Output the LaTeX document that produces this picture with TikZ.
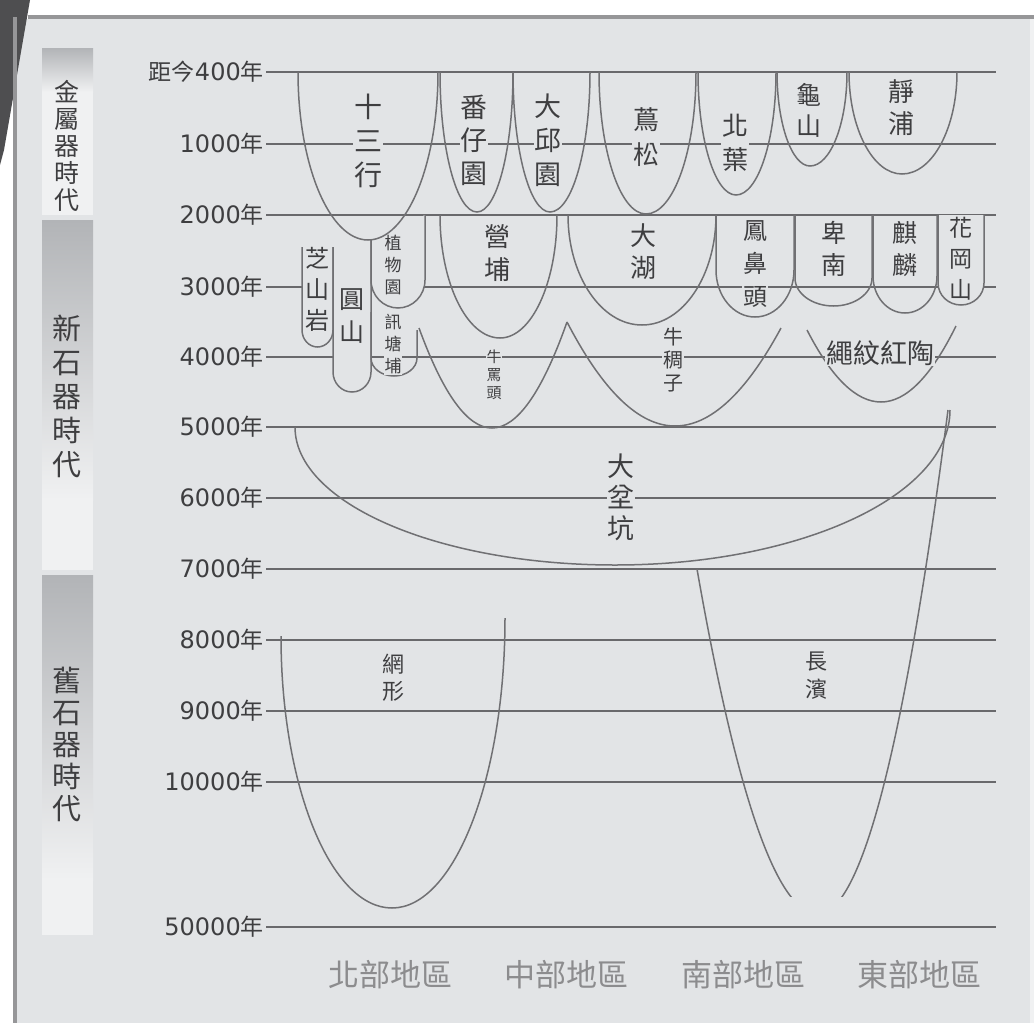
\documentclass[tikz,border=0pt]{standalone}
\usepackage{fontspec}
\newfontfamily\cjk{Noto Sans CJK TC}
\newfontfamily\numfont{DejaVu Sans}
\definecolor{bg}{RGB}{226,228,230}
\definecolor{pale}{RGB}{240,241,242}
\definecolor{ink}{RGB}{62,62,64}
\definecolor{rule}{RGB}{105,105,108}
\definecolor{curve}{RGB}{112,112,115}
\definecolor{framegray}{RGB}{150,150,152}
\definecolor{wedge}{RGB}{78,78,80}
\definecolor{eratop}{RGB}{178,180,183}
\definecolor{regiongray}{RGB}{140,140,142}
\newcommand{\yrnum}[1]{{\numfont\fontsize{24}{26}\selectfont #1}}
% bowl with steep top ends: left (#2,#3), bottom (#4,#5), right (#6,#7)
\newcommand{\ubowl}[7][]{\draw[culture line,#1] (#2,#3) .. controls (#2,{#3+0.552*(#5-#3)}) and ({#4-0.552*(#4-#2)},#5) .. (#4,#5)
  .. controls ({#4+0.552*(#6-#4)},#5) and (#6,{#7+0.552*(#5-#7)}) .. (#6,#7);}
% bowl with slanted arms
\newcommand{\vbowl}[7][]{\draw[culture line,#1] (#2,#3) .. controls ({#2+(#4-#2)/3},{#3+2*(#5-#3)/3}) and ({#4-(#4-#2)/3},#5) .. (#4,#5)
  .. controls ({#4+(#6-#4)/3},#5) and ({#6-(#6-#4)/3},{#7+2*(#5-#7)/3}) .. (#6,#7);}
% straight sided tube: left x, left top, right x, right top, end of straight part, bottom
\newcommand{\tube}[7][]{\draw[culture line,#1] (#2,#3) -- (#2,#6) .. controls (#2,{#6+0.552*(#7-#6)}) and ({(#2+#4)/2-0.552*(#4-#2)/2},#7) .. ({(#2+#4)/2},#7)
  .. controls ({(#2+#4)/2+0.552*(#4-#2)/2},#7) and (#4,{#6+0.552*(#7-#6)}) .. (#4,#6) -- (#4,#5);}

\begin{document}
\begin{tikzpicture}[x=1pt,y=-1pt,
  grid line/.style={draw=rule,line width=1.5pt},
  culture line/.style={draw=curve,line width=1.5pt},
  cjk/.style 2 args={font=\cjk\fontsize{#1}{#2}\selectfont},
  culture/.style={fill=bg,inner sep=0.8pt,align=center,text=ink},
  year/.style={anchor=east,inner sep=2pt,text=ink,cjk={23}{26}},
  era/.style={align=center,text=ink,inner sep=0pt},
  region/.style={text=regiongray,cjk={31}{34}}]

  \useasboundingbox (0,0) rectangle (1034,1023);
  % page and frame
  \fill[white] (0,0) rectangle (1034,1023);
  \fill[bg] (17,19) rectangle (1030,1023);
  \fill[pale] (1030,19) rectangle (1034,1023);
  \fill[wedge] (0,0) -- (30,0) -- (4,150) -- (0,165) -- cycle;
  \draw[framegray,line width=4pt] (28,17) -- (1034,17);
  \draw[framegray,line width=4pt] (15,17) -- (15,1023);

  % era bars
  \shade[top color=eratop,bottom color=pale] (42,48) rectangle (93,92);
  \fill[pale] (42,92) rectangle (93,215);
  \shade[top color=eratop,bottom color=pale] (42,220) rectangle (93,500);
  \fill[pale] (42,500) rectangle (93,570);
  \shade[top color=eratop,bottom color=pale] (42,575) rectangle (93,880);
  \fill[pale] (42,880) rectangle (93,935);
  \node[era,cjk={25}{27}] (metal) at (67,146) {金\\屬\\器\\時\\代};
  \node[era,cjk={29}{34}] (neolithic) at (67,396) {新\\石\\器\\時\\代};
  \node[era,cjk={29}{32}] (paleolithic) at (67,744) {舊\\石\\器\\時\\代};

  % time scale
  \coordinate (lineend) at (996,0);
  \node[year] (y400) at (266,72) {距今\yrnum{400}年};
  \node[year] (y1000) at (266,144) {\yrnum{1000}年};
  \node[year] (y2000) at (266,215) {\yrnum{2000}年};
  \node[year] (y3000) at (266,287) {\yrnum{3000}年};
  \node[year] (y4000) at (266,357) {\yrnum{4000}年};
  \node[year] (y5000) at (266,427) {\yrnum{5000}年};
  \node[year] (y6000) at (266,498) {\yrnum{6000}年};
  \node[year] (y7000) at (266,569) {\yrnum{7000}年};
  \node[year] (y8000) at (266,640) {\yrnum{8000}年};
  \node[year] (y9000) at (266,711) {\yrnum{9000}年};
  \node[year] (y10000) at (266,782) {\yrnum{10000}年};
  \node[year] (y50000) at (266,927) {\yrnum{50000}年};
  \draw[grid line] (y400.east) -- (y400.east -| lineend);
  \draw[grid line] (y1000.east) -- (y1000.east -| lineend);
  \draw[grid line] (y2000.east) -- (y2000.east -| lineend);
  \draw[grid line] (y3000.east) -- (y3000.east -| lineend);
  \draw[grid line] (y4000.east) -- (y4000.east -| lineend);
  \draw[grid line] (y5000.east) -- (y5000.east -| lineend);
  \draw[grid line] (y6000.east) -- (y6000.east -| lineend);
  \draw[grid line] (y7000.east) -- (y7000.east -| lineend);
  \draw[grid line] (y8000.east) -- (y8000.east -| lineend);
  \draw[grid line] (y9000.east) -- (y9000.east -| lineend);
  \draw[grid line] (y10000.east) -- (y10000.east -| lineend);
  \draw[grid line] (y50000.east) -- (y50000.east -| lineend);

  % cultures with a box of their own
  \tube[fill=bg]{302}{247}{333}{247}{330}{347}
  \tube[fill=bg]{333}{247}{371}{240}{372}{392}
  \tube[fill=bg]{371}{240}{425}{215}{280}{308}
  \tube[fill=bg]{938}{215}{984}{215}{283}{305}
  \tube{371}{312}{417}{330}{358}{376}
  \tube{716}{215}{794}{215}{270}{317}
  \tube{795}{215}{872}{215}{278}{306}
  \tube{873}{215}{937}{215}{276}{313}

  % metal age
  \ubowl{298}{72}{368}{240}{438}{72}
  \ubowl{440}{72}{477}{212}{513}{72}
  \ubowl{513}{72}{550}{212}{590}{72}
  \ubowl{599}{72}{646}{214}{696}{72}
  \ubowl{698}{72}{736}{195}{776}{72}
  \ubowl{777}{72}{810}{166}{847}{72}
  \ubowl{849}{72}{902}{174}{957}{72}
  % neolithic
  \ubowl{440}{215}{500}{338}{557}{215}
  \ubowl{568}{215}{642}{325}{716}{215}
  \vbowl{419}{328}{492}{428}{567}{322}
  \vbowl{567}{322}{675}{426}{781}{328}
  \vbowl{807}{330}{881}{402}{956}{326}
  \ubowl{295}{427}{615}{565}{950}{410}
  % paleolithic
  \ubowl{281}{636}{392}{908}{505}{618}
  \begin{scope}
    \clip (600,380) rectangle (1000,896);
    \vbowl{697}{569}{818}{914}{948}{410}
  \end{scope}

  % culture names
  \node[culture,cjk={28}{34}] (shisanhang) at (368,141) {十\\三\\行};
  \node[culture,cjk={27}{33}] (fanziyuan) at (474,140) {番\\仔\\園};
  \node[culture,cjk={27}{34}] (daqiuyuan) at (548,140) {大\\邱\\園};
  \node[culture,cjk={26}{35}] (niaosong) at (646,137) {蔦\\松};
  \node[culture,cjk={26}{34}] (beiye) at (735,143) {北\\葉};
  \node[culture,cjk={25}{31}] (guishan) at (809,110) {龜\\山};
  \node[culture,cjk={26}{32}] (jingpu) at (901,108) {靜\\浦};
  \node[culture,fill=none,cjk={24}{31}] (zhishanyan) at (317,289) {芝\\山\\岩};
  \node[culture,fill=none,cjk={25}{33}] (yuanshan) at (352,316) {圓\\山};
  \node[culture,fill=none,cjk={17}{22}] (zhiwuyuan) at (393,265) {植\\物\\園};
  \node[culture,cjk={17}{22}] (xuntangpu) at (393,344) {訊\\塘\\埔};
  \node[culture,cjk={26}{33}] (yingpu) at (497,253) {營\\埔};
  \node[culture,cjk={15}{18}] (niumatou) at (494,375) {牛\\罵\\頭};
  \node[culture,cjk={26}{32}] (dahu) at (643,252) {大\\湖};
  \node[culture,cjk={20}{23}] (niuchouzi) at (673,360) {牛\\稠\\子};
  \node[culture,cjk={24}{33}] (fengbitou) at (755,264) {鳳\\鼻\\頭};
  \node[culture,cjk={25}{32}] (beinan) at (834,249) {卑\\南};
  \node[culture,cjk={25}{32}] (qilin) at (905,249) {麒\\麟};
  \node[culture,fill=none,cjk={23}{31}] (huagangshan) at (961,259) {花\\岡\\山};
  \node[culture,cjk={27}{30}] (shengwen) at (880,353) {繩紋紅陶};
  \node[culture,cjk={27}{31}] (dabenkeng) at (621,497) {大\\坌\\坑};
  \node[culture,cjk={22}{27}] (wangxing) at (393,678) {網\\形};
  \node[culture,cjk={22}{28}] (changbin) at (816,676) {長\\濱};

  % regions
  \node[region] (north) at (390,975) {北部地區};
  \node[region] (central) at (566,975) {中部地區};
  \node[region] (south) at (743,975) {南部地區};
  \node[region] (east) at (919,975) {東部地區};
\end{tikzpicture}
\end{document}
